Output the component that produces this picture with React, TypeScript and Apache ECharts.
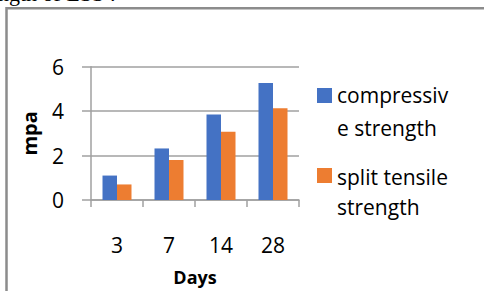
import React, { useEffect, useRef } from "react";
import * as echarts from "echarts";

const categories = ["3", "7", "14", "28"];
const compressive = [1.1, 2.32, 3.85, 5.27];
const splitTensile = [0.7, 1.8, 3.07, 4.13];
const seriesNames = ["compressive strength", "split tensile strength"];
const legendLines = [["compressiv", "e strength"], ["split tensile", "strength"]];
const colors = ["#4472C4", "#ED7D31"];
const yTicks = { min: 0, max: 6, interval: 2 };
const captionText = "ngth of LSS :";

export default function App() {
  const ref = useRef<HTMLDivElement>(null);
  useEffect(() => {
    if (!ref.current) return;
    const chart = echarts.init(ref.current, undefined, { renderer: "svg" });
    const font = "'Open Sans', sans-serif";
    const gray = "#a0a0a0";
    chart.setOption({
      animation: false,
      backgroundColor: "#ffffff",
      textStyle: { fontFamily: font },
      grid: { left: 91, right: 185, top: 66.7, bottom: 91, containLabel: false },
      xAxis: {
        type: "category",
        data: categories,
        name: "Days",
        nameLocation: "middle",
        nameGap: 68,
        nameTextStyle: { fontFamily: font, fontWeight: "bold", fontSize: 18, color: "#000" },
        axisLine: { show: true, lineStyle: { color: gray, width: 1.5 } },
        axisTick: { show: true, alignWithLabel: false, length: 7, lineStyle: { color: gray, width: 1.5 } },
        axisLabel: { margin: 34, fontSize: 21, color: "#000", fontFamily: font },
      },
      yAxis: {
        type: "value",
        min: yTicks.min,
        max: yTicks.max,
        interval: yTicks.interval,
        name: "mpa",
        nameLocation: "middle",
        nameGap: 52,
        nameRotate: 90,
        nameTextStyle: { fontFamily: font, fontWeight: "bold", fontSize: 20, color: "#000" },
        axisLine: { show: true, lineStyle: { color: gray, width: 1.5 } },
        axisTick: { show: true, inside: false, length: 9, lineStyle: { color: gray, width: 1.5 } },
        axisLabel: { margin: 27, fontSize: 21, color: "#000", fontFamily: font },
        splitLine: { show: true, lineStyle: { color: gray, width: 1.5 } },
      },
      legend: { show: false },
      series: [
        {
          name: seriesNames[0],
          type: "bar",
          data: compressive,
          barWidth: 14.5,
          barGap: "0%",
          itemStyle: { color: colors[0] },
        },
        {
          name: seriesNames[1],
          type: "bar",
          data: splitTensile,
          barWidth: 14.5,
          barGap: "0%",
          itemStyle: { color: colors[1] },
        },
      ],
      graphic: [
        {
          type: "rect",
          shape: { x: 6.5, y: 8.2, width: 520, height: 320 },
          style: { fill: "none", stroke: "#8c8c8c", lineWidth: 2.5 },
          silent: true,
        },
        {
          type: "text",
          x: -2,
          y: -7,
          style: {
            text: captionText,
            fontFamily: "'Liberation Serif', serif",
            fontSize: 22,
            fill: "#000",
            verticalAlign: "middle",
          },
        },
        { type: "rect", shape: { x: 317, y: 88, width: 15, height: 15 }, style: { fill: colors[0] } },
        { type: "rect", shape: { x: 317, y: 168, width: 15, height: 15 }, style: { fill: colors[1] } },
        ...[
          [legendLines[0][0], 95],
          [legendLines[0][1], 128],
          [legendLines[1][0], 176.5],
          [legendLines[1][1], 207],
        ].map(([t, y]) => ({
          type: "text",
          x: 337,
          y: y as number,
          style: {
            text: t as string,
            fontFamily: font,
            fontSize: 21,
            fill: "#000",
            verticalAlign: "middle",
          },
        })),
      ],
    });
    return () => chart.dispose();
  }, []);
  return (
    <div
      ref={ref}
      style={{ position: "fixed", left: 0, top: 0, width: 484, height: 291 }}
    />
  );
}
